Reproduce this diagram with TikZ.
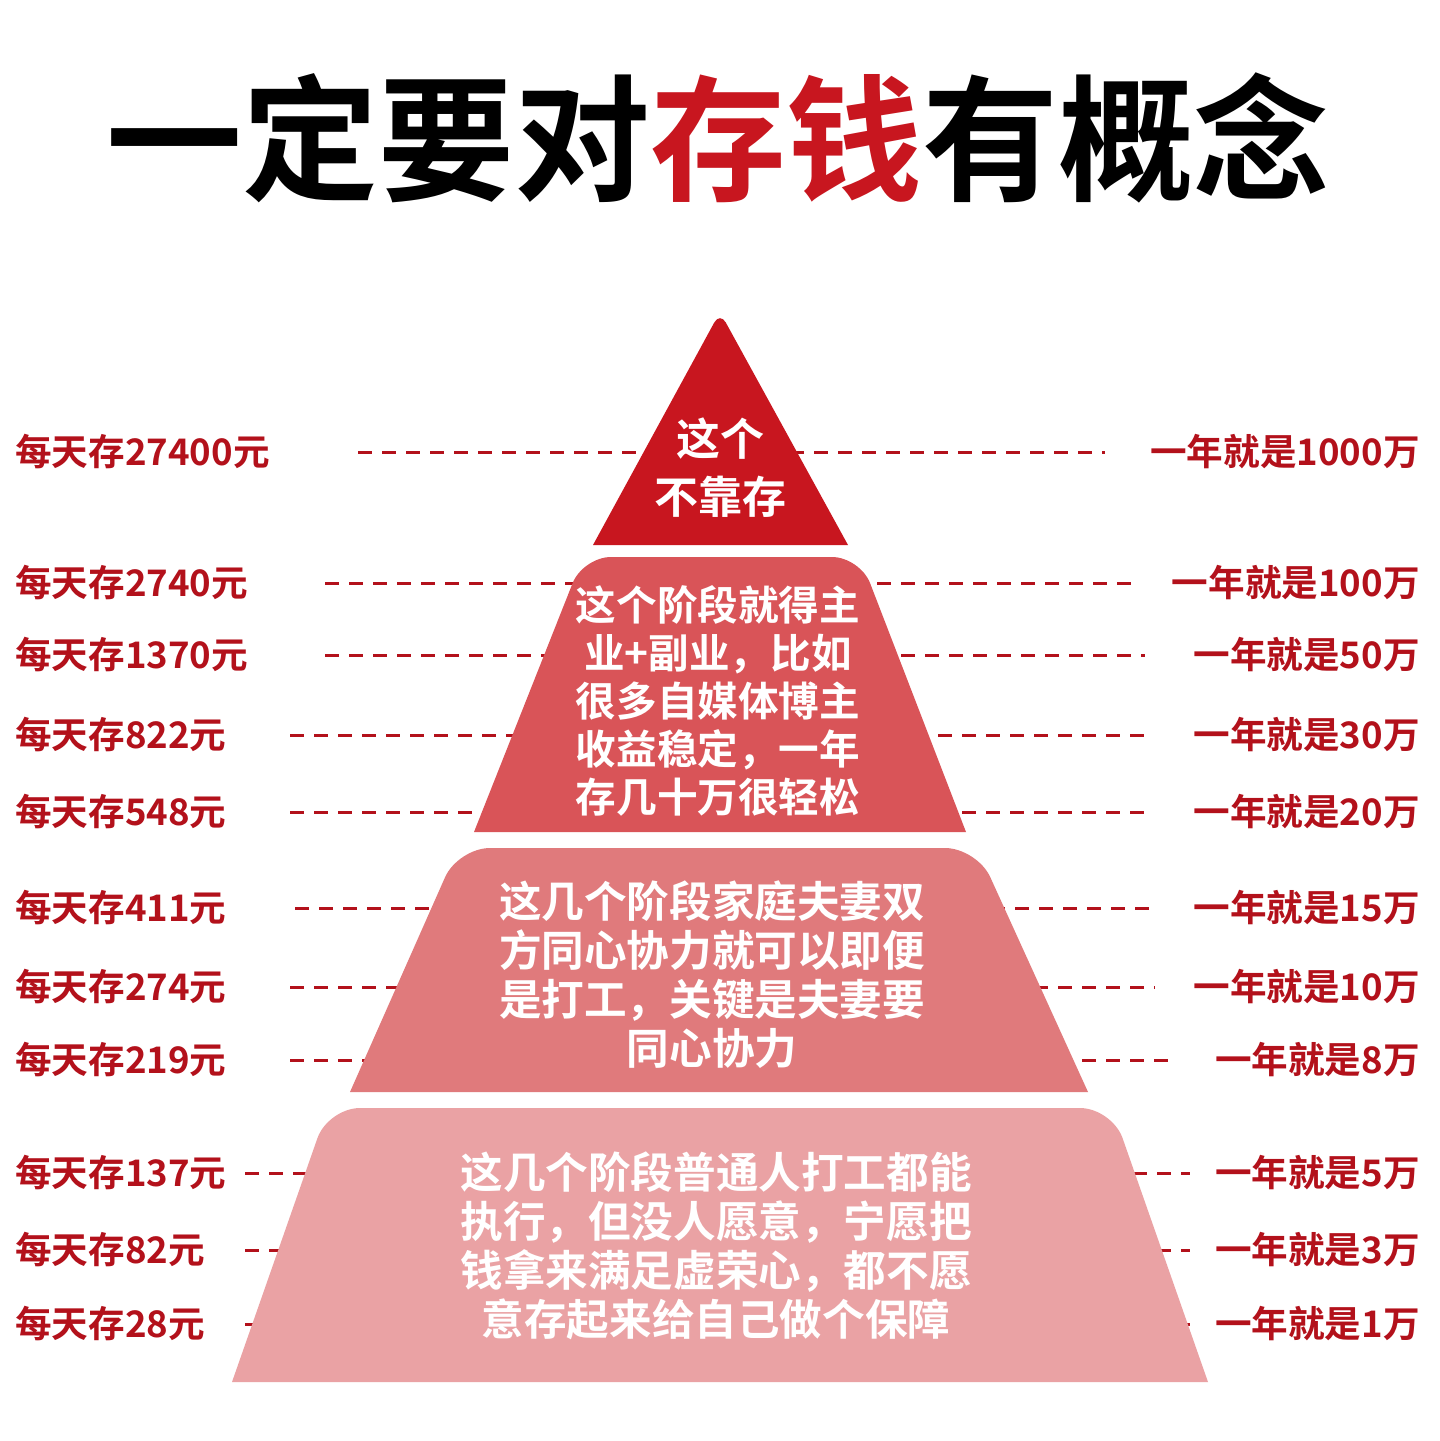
\documentclass[tikz,border=0pt]{standalone}
\usepackage{fontspec}
\setmainfont{Noto Sans CJK SC Bold}
\newfontfamily\cjkb{Noto Sans CJK SC Bold}
\begin{document}
\begin{tikzpicture}[x=0.5pt,y=-0.5pt,
  lab/.style={text=dkred,font=\cjkb\fontsize{18.3}{20}\selectfont,inner sep=0pt},
  tier/.style={text=white,align=center,inner sep=0pt},
  dl/.style={dkred,line width=1.5pt,dash pattern=on 7pt off 5pt}]
\definecolor{dkred}{HTML}{B3111B}
\definecolor{t1}{HTML}{C8161F}
\definecolor{t2}{HTML}{D95458}
\definecolor{t3}{HTML}{E07A7C}
\definecolor{t4}{HTML}{EAA2A4}
\useasboundingbox (0,0) rectangle (1440,1441);
\fill[white] (0,0) rectangle (1440,1441);
\node[inner sep=0pt,font=\cjkb\fontsize{68}{74}\selectfont] (title) at (718,138) {一定要对\textcolor{t1}{存钱}有概念};
\foreach \y/\a/\b/\l/\r [count=\i] in {
 452/358/1105/27400/1000, 583/325/1140/2740/100, 655/325/1145/1370/50,
 735/290/1150/822/30, 812/290/1150/548/20, 908/295/1150/411/15,
 987/290/1155/274/10, 1060/290/1170/219/8, 1173/245/1190/137/5,
 1250/245/1190/82/3, 1324/245/1190/28/1}{
  \coordinate (la\i) at (\a,\y); \coordinate (rb\i) at (\b,\y);
  \draw[dl] (la\i) -- (rb\i);
  \node[lab,anchor=west] (L\i) at (15,\y) {每天存\l 元};
  \node[lab,anchor=east] (R\i) at (1420,\y) {一年就是\r 万};
}
\fill[t1] (593,545) [rounded corners=6pt] -- (720,312) [sharp corners] -- (848,545) -- cycle;
\fill[t2] (474,832) [rounded corners=14pt] -- (583,557) -- (860,557) [sharp corners] -- (966,832) -- cycle;
\fill[t3] (350,1092) [rounded corners=16pt] -- (458,848) -- (977,848) [sharp corners] -- (1088,1092) -- cycle;
\fill[t4] (232,1382) [rounded corners=16pt] -- (328,1108) -- (1112,1108) [sharp corners] -- (1208,1382) -- cycle;
\node[tier,font=\cjkb\fontsize{22}{29}\selectfont] (T1) at (720,468) {这个\\不靠存};
\node[tier,font=\cjkb\fontsize{20.3}{24}\selectfont] (T2) at (718,701) {这个阶段就得主\\业+副业，比如\\很多自媒体博主\\收益稳定，一年\\存几十万很轻松};
\node[tier,font=\cjkb\fontsize{21.3}{24.5}\selectfont] (T3) at (712,975) {这几个阶段家庭夫妻双\\方同心协力就可以即便\\是打工，关键是夫妻要\\同心协力};
\node[tier,font=\cjkb\fontsize{21.3}{24.5}\selectfont] (T4) at (716,1246) {这几个阶段普通人打工都能\\执行，但没人愿意，宁愿把\\钱拿来满足虚荣心，都不愿\\意存起来给自己做个保障};
\end{tikzpicture}
\end{document}
